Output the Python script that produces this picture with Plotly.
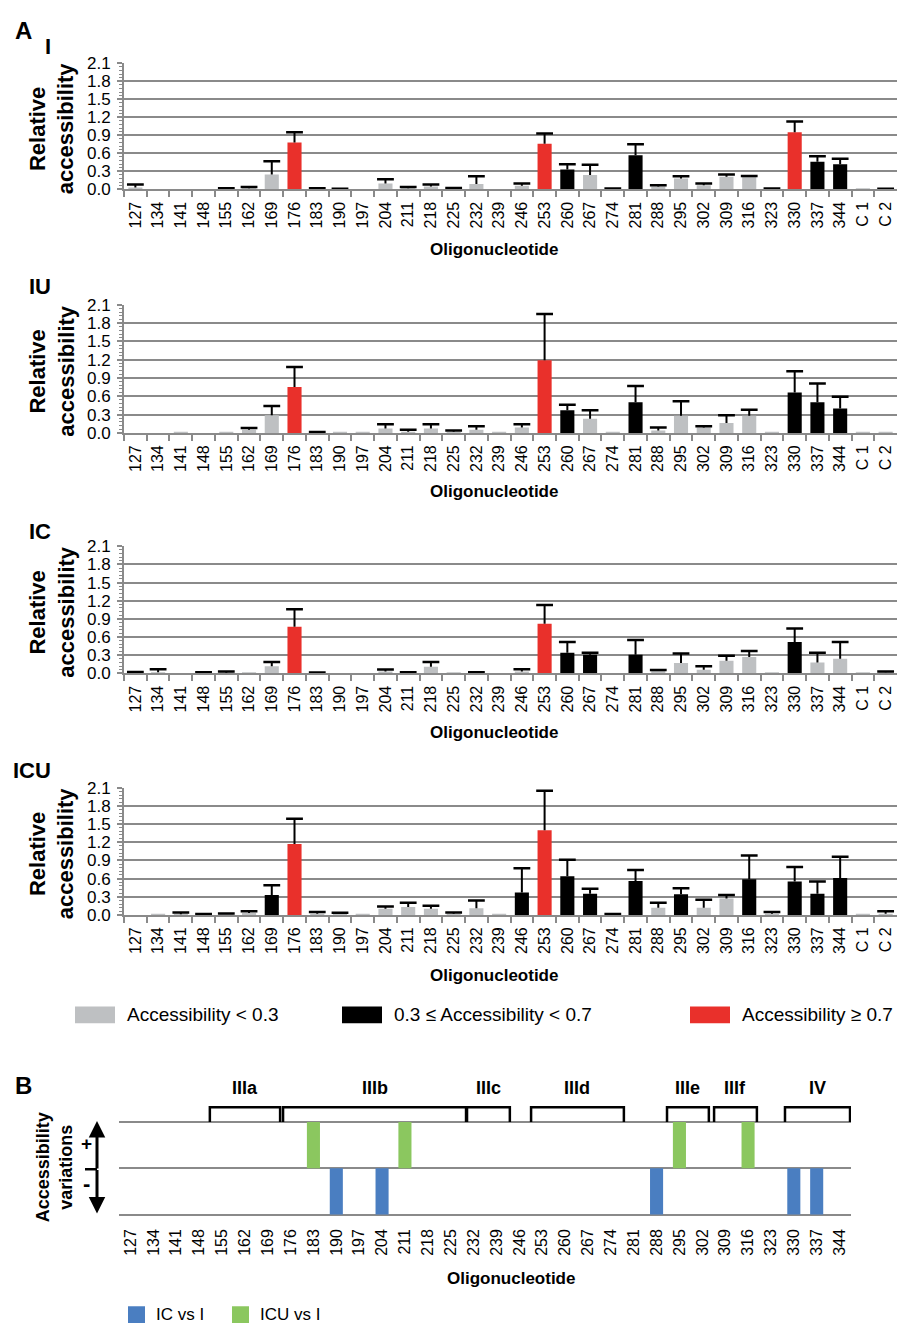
import plotly.graph_objects as go

W, H = 901, 1334

# ---------------- data ----------------
oligos = ['127', '134', '141', '148', '155', '162', '169', '176', '183', '190', '197',
          '204', '211', '218', '225', '232', '239', '246', '253', '260', '267', '274',
          '281', '288', '295', '302', '309', '316', '323', '330', '337', '344', 'C 1', 'C 2']

I_mean = [0.03, 0, 0, 0, 0.01, 0.02, 0.25, 0.78, 0.01, 0.005, 0, 0.10, 0.02, 0.05, 0.015, 0.09, 0,
          0.06, 0.76, 0.33, 0.24, 0.01, 0.57, 0.05, 0.18, 0.07, 0.21, 0.21, 0.01, 0.95, 0.46, 0.42,
          0.005, 0.005]
I_err = [0.05, 0, 0, 0, 0.01, 0.02, 0.22, 0.17, 0.01, 0.005, 0, 0.07, 0.02, 0.03, 0.01, 0.13, 0,
         0.04, 0.17, 0.09, 0.17, 0.005, 0.18, 0.02, 0.04, 0.03, 0.04, 0.015, 0.005, 0.18, 0.09, 0.09,
         0, 0.005]

IU_mean = [0, 0, 0.005, 0, 0.005, 0.05, 0.29, 0.75, 0.01, 0.005, 0.005, 0.07, 0.02, 0.07, 0.02, 0.05,
           0.01, 0.09, 1.19, 0.37, 0.23, 0.01, 0.50, 0.04, 0.28, 0.09, 0.16, 0.28, 0.01, 0.66, 0.50,
           0.40, 0.01, 0.005]
IU_err = [0, 0, 0, 0, 0, 0.03, 0.15, 0.33, 0.005, 0, 0, 0.07, 0.03, 0.07, 0.02, 0.06, 0, 0.05, 0.76,
          0.09, 0.14, 0, 0.27, 0.05, 0.24, 0.02, 0.13, 0.10, 0, 0.35, 0.31, 0.19, 0, 0]

IC_mean = [0.01, 0.02, 0, 0.01, 0.01, 0.005, 0.12, 0.77, 0.01, 0, 0, 0.03, 0.01, 0.11, 0.005, 0.01, 0,
           0.03, 0.82, 0.34, 0.31, 0, 0.31, 0.04, 0.17, 0.06, 0.21, 0.27, 0.005, 0.52, 0.18, 0.24,
           0.005, 0.02]
IC_err = [0.015, 0.05, 0, 0.01, 0.02, 0, 0.07, 0.29, 0.005, 0, 0, 0.035, 0.01, 0.08, 0, 0.01, 0, 0.04,
          0.31, 0.18, 0.03, 0, 0.24, 0.015, 0.16, 0.06, 0.08, 0.10, 0, 0.22, 0.16, 0.28, 0, 0.01]

ICU_mean = [0, 0.005, 0.01, 0.01, 0.015, 0.03, 0.33, 1.17, 0.02, 0.015, 0.005, 0.10, 0.13, 0.10, 0.02,
            0.11, 0.005, 0.37, 1.40, 0.64, 0.35, 0.01, 0.56, 0.12, 0.34, 0.12, 0.27, 0.59, 0.02, 0.55,
            0.35, 0.61, 0.01, 0.02]
ICU_err = [0, 0, 0.03, 0.005, 0.01, 0.03, 0.16, 0.42, 0.03, 0.02, 0, 0.04, 0.07, 0.05, 0.02, 0.13, 0,
           0.40, 0.65, 0.27, 0.08, 0.005, 0.18, 0.08, 0.10, 0.13, 0.06, 0.39, 0.03, 0.24, 0.20, 0.35,
           0, 0.04]

panel_names = ['I', 'IU', 'IC', 'ICU']
legend_labels = ['Accessibility < 0.3', '0.3 ≤ Accessibility < 0.7', 'Accessibility ≥ 0.7']

# Panel B
B_oligos = [127, 134, 141, 148, 155, 162, 169, 176, 183, 190, 197, 204, 211, 218, 225, 232,
            239, 246, 253, 260, 267, 274, 281, 288, 295, 302, 309, 316, 323, 330, 337, 344]
ICU_vs_I_oligos = [183, 211, 295, 316]
ICU_vs_I_dir = [1, 1, 1, 1]
IC_vs_I_oligos = [190, 204, 288, 330, 337]
IC_vs_I_dir = [-1, -1, -1, -1, -1]
region_names = ['IIIa', 'IIIb', 'IIIc', 'IIId', 'IIIe', 'IIIf', 'IV']
region_start = [151.3, 173.7, 230.0, 249.6, 291.2, 305.6, 327.3]
region_end = [172.8, 229.7, 243.1, 278.0, 304.0, 318.7, 347.2]

# ---------------- style ----------------
FONT = 'Liberation Sans, Arial, sans-serif'
GRID = '#8a8a8a'
GRAY = '#bec0c2'
BLACK = '#000000'
RED = '#e9302b'
BLUE = '#4a7ec1'
GREEN = '#8bc75f'


def pyp(px):
    return 1 - px / H


def acc_color(v):
    if v >= 0.7:
        return RED
    if v >= 0.3:
        return BLACK
    return GRAY


# pixel geometry of the four bar panels: (top, bottom, x-title y, label y)
panel_geo = [(55, 183, 244, 38), (300, 430, 489, 282), (545, 674, 734, 530), (790, 919, 980, 773)]
panel_data = [(I_mean, I_err), (IU_mean, IU_err), (IC_mean, IC_err), (ICU_mean, ICU_err)]

fig = go.Figure()
layout = dict(width=W, height=H, margin=dict(l=0, r=0, t=0, b=0),
              paper_bgcolor='white', plot_bgcolor='white', showlegend=False,
              barmode='overlay', font=dict(family=FONT, color='black'))
annotations = []
shapes = []

for k, (name, (vals, errs), geo) in enumerate(zip(panel_names, panel_data, panel_geo)):
    i = k + 1
    xa = 'x' if i == 1 else f'x{i}'
    ya = 'y' if i == 1 else f'y{i}'
    top, bot, xt_y, lab_y = geo
    fig.add_trace(go.Bar(x=oligos, y=vals, width=0.62,
                         marker=dict(color=[acc_color(v) for v in vals], line=dict(width=0)),
                         xaxis=xa, yaxis=ya, hoverinfo='x+y'))
    ex, ey, cx, cy = [], [], [], []
    for c, v, e in zip(oligos, vals, errs):
        if e > 0:
            ex += [c, c, None]
            ey += [v, v + e, None]
            cx.append(c)
            cy.append(v + e)
    fig.add_trace(go.Scatter(x=ex, y=ey, mode='lines', line=dict(color='black', width=2),
                             xaxis=xa, yaxis=ya, hoverinfo='skip'))
    fig.add_trace(go.Scatter(x=cx, y=cy, mode='markers',
                             marker=dict(symbol='line-ew', size=12, color='black',
                                         line=dict(color='black', width=2.5)),
                             xaxis=xa, yaxis=ya, hoverinfo='skip'))
    layout['xaxis' if i == 1 else f'xaxis{i}'] = dict(
        domain=[124 / W, 897 / W], anchor=ya, type='category',
        categoryorder='array', categoryarray=oligos, range=[-0.5, len(oligos) - 0.5],
        showline=True, linecolor=GRID, linewidth=2, ticks='outside', tickson='boundaries',
        ticklen=6, tickwidth=1.5, tickcolor=GRID, tickangle=-90,
        tickfont=dict(size=16, family=FONT), showgrid=False, ticklabelstandoff=4)
    layout['yaxis' if i == 1 else f'yaxis{i}'] = dict(
        domain=[pyp(bot), pyp(top)], anchor=xa, range=[0, 2.1], tick0=0, dtick=0.3,
        tickformat='.1f', showgrid=True, gridcolor=GRID, gridwidth=2,
        showline=True, linecolor=GRID, linewidth=2, ticks='outside', ticklen=5,
        tickwidth=1.5, tickcolor=GRID, tickfont=dict(size=17, family=FONT), zeroline=False,
        ticklabelstandoff=3,
        minor=dict(dtick=0.06, tick0=0, ticks='outside', ticklen=3, tickcolor=GRID,
                   tickwidth=1, showgrid=False))
    annotations.append(dict(text=f'<b>{name}</b>', x=53 / W, y=pyp(lab_y), xref='paper', yref='paper',
                            xanchor='right', yanchor='middle', showarrow=False,
                            font=dict(size=22, family=FONT)))
    annotations.append(dict(text='<b>Relative<br>accessibility</b>', textangle=-90,
                            x=52 / W, y=pyp((top + bot) / 2 + 2), xref='paper', yref='paper',
                            xanchor='center', yanchor='middle', showarrow=False,
                            font=dict(size=22, family=FONT)))
    annotations.append(dict(text='<b>Oligonucleotide</b>', x=494 / W, y=pyp(xt_y), xref='paper',
                            yref='paper', xanchor='center', yanchor='middle', showarrow=False,
                            font=dict(size=17, family=FONT)))

annotations.append(dict(text='<b>A</b>', x=23 / W, y=pyp(22), xref='paper', yref='paper',
                        xanchor='center', yanchor='middle', showarrow=False,
                        font=dict(size=24, family=FONT)))

# legend for panel A
leg_sw = [(75, GRAY), (342, BLACK), (690, RED)]
for (x0, col), lab in zip(leg_sw, legend_labels):
    shapes.append(dict(type='rect', xref='paper', yref='paper', x0=x0 / W, x1=(x0 + 40) / W,
                       y0=pyp(1029), y1=pyp(1012), fillcolor=col, line=dict(width=0)))
    annotations.append(dict(text=lab, x=(x0 + 50) / W, y=pyp(1020), xref='paper', yref='paper',
                            xanchor='left', yanchor='middle', showarrow=False,
                            font=dict(size=19, family=FONT)))

# ---------------- panel B ----------------
B_lo, B_hi = B_oligos[0] - 3.5, B_oligos[-1] + 3.5
fig.add_trace(go.Bar(x=ICU_vs_I_oligos, y=ICU_vs_I_dir, width=4, marker=dict(color=GREEN, line=dict(width=0)),
                     xaxis='x5', yaxis='y5', name='ICU vs I'))
fig.add_trace(go.Bar(x=IC_vs_I_oligos, y=IC_vs_I_dir, width=4, marker=dict(color=BLUE, line=dict(width=0)),
                     xaxis='x5', yaxis='y5', name='IC vs I'))

pad = 0.05  # small range padding so the outer grid lines are drawn
B_top, B_bot = 1129, 1223
ppu = (B_bot - B_top) / 2.0
layout['xaxis5'] = dict(domain=[119 / W, 851 / W], anchor='y5', range=[B_lo, B_hi],
                        tickmode='array', tickvals=B_oligos, ticktext=[str(o) for o in B_oligos],
                        ticks='', showline=False, showgrid=False, zeroline=False, tickangle=-90,
                        tickfont=dict(size=16, family=FONT), ticklabelstandoff=8)
layout['xaxis6'] = dict(overlaying='x5', anchor='free', position=pyp(1176), range=[B_lo, B_hi],
                        tickmode='array', tickvals=[o - 3.5 for o in B_oligos] + [B_hi],
                        ticks='outside', ticklen=6, tickwidth=1.5, tickcolor=GRID,
                        showticklabels=False, showline=True, linecolor=GRID, linewidth=2,
                        showgrid=False, zeroline=False)
layout['yaxis5'] = dict(domain=[pyp(B_bot + pad * ppu), pyp(B_top - pad * ppu)], anchor='x5',
                        range=[-1 - pad, 1 + pad],
                        tickmode='array', tickvals=[-1, 0, 1], showgrid=True, gridcolor=GRID,
                        gridwidth=2, showticklabels=False, ticks='', zeroline=False, showline=False)

for nm, s, e in zip(region_names, region_start, region_end):
    yb, yt = pyp(1129), pyp(1114)
    shapes.append(dict(type='path', xref='x5', yref='paper',
                       path=f'M {s},{yb} L {s},{yt} L {e},{yt} L {e},{yb}',
                       line=dict(color='black', width=2.5)))
    annotations.append(dict(text=f'<b>{nm}</b>', x=(s + e) / 2, y=pyp(1095), xref='x5', yref='paper',
                            xanchor='center', yanchor='middle', showarrow=False,
                            font=dict(size=18, family=FONT)))

annotations.append(dict(text='<b>B</b>', x=23 / W, y=pyp(1092), xref='paper', yref='paper',
                        xanchor='center', yanchor='middle', showarrow=False,
                        font=dict(size=24, family=FONT)))
annotations.append(dict(text='<b>Accessibility<br>variations</b>', textangle=-90,
                        x=54 / W, y=pyp(1175), xref='paper', yref='paper',
                        xanchor='center', yanchor='middle', showarrow=False,
                        font=dict(size=18, family=FONT)))
annotations.append(dict(text='<b>+</b>', x=86 / W, y=pyp(1151), xref='paper', yref='paper',
                        xanchor='center', yanchor='middle', showarrow=False,
                        font=dict(size=19, family=FONT)))
annotations.append(dict(text='<b>-</b>', x=86 / W, y=pyp(1191), xref='paper', yref='paper',
                        xanchor='center', yanchor='middle', showarrow=False,
                        font=dict(size=22, family=FONT)))
# double arrow
for ytip, dy in [(1128, 49), (1222, -45)]:
    annotations.append(dict(text='', x=97 / W, y=pyp(ytip), xref='paper', yref='paper',
                            ax=0, ay=dy, showarrow=True, arrowhead=2, arrowsize=1.1,
                            arrowwidth=3, arrowcolor='black'))
shapes.append(dict(type='line', xref='paper', yref='paper', x0=85 / W, x1=97 / W,
                   y0=pyp(1177), y1=pyp(1177), line=dict(color='black', width=2.5)))

annotations.append(dict(text='<b>Oligonucleotide</b>', x=511 / W, y=pyp(1288), xref='paper',
                        yref='paper', xanchor='center', yanchor='middle', showarrow=False,
                        font=dict(size=17, family=FONT)))

# legend for panel B
for x0, col, lab in [(128, BLUE, 'IC vs I'), (232, GREEN, 'ICU vs I')]:
    shapes.append(dict(type='rect', xref='paper', yref='paper', x0=x0 / W, x1=(x0 + 17) / W,
                       y0=pyp(1333), y1=pyp(1316), fillcolor=col, line=dict(width=0)))
    annotations.append(dict(text=lab, x=(x0 + 26) / W, y=pyp(1324), xref='paper', yref='paper',
                            xanchor='left', yanchor='middle', showarrow=False,
                            font=dict(size=17, family=FONT)))

layout['annotations'] = annotations
layout['shapes'] = shapes
fig.update_layout(**layout)
fig.write_html('out.html', config={'displayModeBar': False},
               post_script="document.body.style.margin='0';document.body.style.padding='0';"
                           "document.documentElement.style.overflow='hidden';")
